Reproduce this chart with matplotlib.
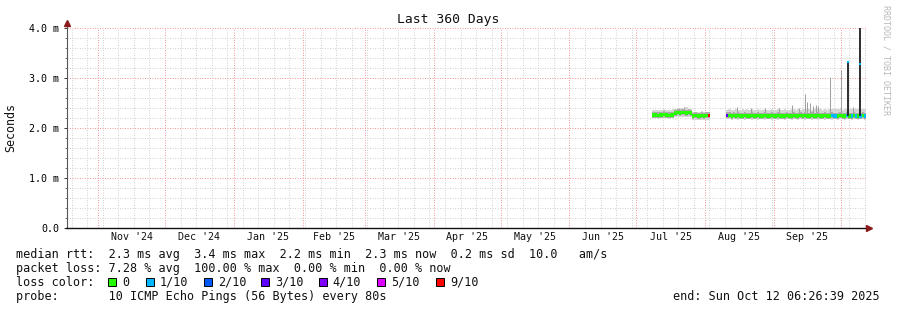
import datetime as dt
import matplotlib
matplotlib.use("Agg")
import matplotlib.pyplot as plt
import matplotlib.dates as mdates
from matplotlib.patches import Rectangle
from matplotlib.lines import Line2D

plt.rcParams['font.family'] = ['DejaVu Sans Mono']

# ---- data (ms), one value per day ----
seg1_start = dt.datetime(2025, 7, 8, 5)
seg1_median = [2.26, 2.26, 2.25, 2.26, 2.26, 2.27, 2.26, 2.25, 2.26, 2.26,
               2.30, 2.31, 2.30, 2.31, 2.31, 2.30, 2.31, 2.30,
               2.24, 2.25, 2.24, 2.24, 2.25, 2.24, 2.25, 2.25]
seg1_hi = [2.36, 2.37, 2.37, 2.36, 2.37, 2.38, 2.37, 2.36, 2.37, 2.38,
           2.39, 2.40, 2.39, 2.41, 2.39, 2.42, 2.39, 2.38,
           2.33, 2.32, 2.33, 2.32, 2.34, 2.32, 2.33, 2.32]
seg1_lo = [2.20, 2.20, 2.19, 2.20, 2.20, 2.21, 2.20, 2.19, 2.20, 2.20,
           2.22, 2.23, 2.22, 2.22, 2.23, 2.22, 2.22, 2.22,
           2.16, 2.17, 2.16, 2.16, 2.17, 2.16, 2.17, 2.17]
seg1_loss = [0, 0, 0, 0, 0, 0, 0, 0, 0, 0,
             0, 0, 0, 0, 0, 0, 0, 0,
             0, 0, 0, 0, 0, 0, 0, 9]

seg2_start = dt.datetime(2025, 8, 10, 12)
seg2_median = [2.25, 2.25, 2.24, 2.25, 2.24, 2.25, 2.24, 2.24, 2.25, 2.24,
               2.24, 2.25, 2.24, 2.24, 2.25, 2.24, 2.24, 2.25, 2.24, 2.24,
               2.25, 2.24, 2.24, 2.25, 2.24, 2.24, 2.24, 2.25, 2.24, 2.24,
               2.25, 2.24, 2.24, 2.25, 2.24, 2.25, 2.24, 2.24, 2.25, 2.24,
               2.24, 2.25, 2.24, 2.24, 2.25, 2.24, 2.24, 2.25, 2.24, 2.24,
               2.24, 2.25, 2.24, 2.24, 2.25, 2.24, 2.24, 2.25, 2.24, 2.24,
               2.24, 2.25, 2.24]
seg2_hi = [2.37, 2.38, 2.37, 2.37, 2.38, 2.37, 2.37, 2.38, 2.37, 2.38,
           2.37, 2.38, 2.37, 2.37, 2.38, 2.37, 2.37, 2.38, 2.37, 2.37,
           2.38, 2.37, 2.37, 2.38, 2.37, 2.37, 2.38, 2.37, 2.37, 2.38,
           2.38, 2.37, 2.38, 2.37, 2.38, 2.39, 2.38, 2.38, 2.37, 2.38,
           2.38, 2.39, 2.38, 2.37, 2.38, 2.37, 2.38, 2.39, 2.38, 2.38,
           2.38, 2.38, 2.37, 2.38, 2.38, 2.39, 2.38, 2.38, 2.39, 2.38,
           2.38, 2.39, 2.38]
seg2_lo = [2.18, 2.18, 2.17, 2.18, 2.18, 2.17, 2.18, 2.18, 2.17, 2.18,
           2.18, 2.17, 2.18, 2.18, 2.17, 2.18, 2.18, 2.17, 2.18, 2.18,
           2.17, 2.18, 2.18, 2.17, 2.18, 2.18, 2.17, 2.18, 2.18, 2.17,
           2.18, 2.18, 2.17, 2.18, 2.18, 2.17, 2.18, 2.18, 2.17, 2.18,
           2.18, 2.17, 2.18, 2.18, 2.17, 2.18, 2.18, 2.17, 2.18, 2.18,
           2.17, 2.18, 2.18, 2.17, 2.18, 2.18, 2.17, 2.18, 2.18, 2.17,
           2.18, 2.18, 2.17]
seg2_loss = [3, 0, 0, 0, 0, 0, 0, 0, 0, 0,
             0, 0, 0, 0, 0, 0, 0, 0, 0, 0,
             0, 0, 0, 0, 0, 0, 0, 0, 0, 0,
             0, 0, 0, 0, 0, 0, 0, 0, 0, 0,
             0, 0, 0, 0, 0, 0, 0, 1, 1, 1,
             0, 0, 0, 0, 1, 0, 1, 0, 1, 0,
             1, 0, 1]

# single-ping spikes in the smoke
peak_dates = [dt.datetime(2025, 7, 20, 12), dt.datetime(2025, 7, 22, 12),
              dt.datetime(2025, 8, 15, 7), dt.datetime(2025, 8, 21, 12),
              dt.datetime(2025, 8, 28), dt.datetime(2025, 9, 3, 12),
              dt.datetime(2025, 9, 9), dt.datetime(2025, 9, 12, 12),
              dt.datetime(2025, 9, 15), dt.datetime(2025, 9, 15, 22),
              dt.datetime(2025, 9, 17, 7), dt.datetime(2025, 9, 18, 12),
              dt.datetime(2025, 9, 20), dt.datetime(2025, 9, 21),
              dt.datetime(2025, 9, 26, 6), dt.datetime(2025, 10, 1, 2),
              dt.datetime(2025, 10, 6, 12)]
peak_tops = [2.41, 2.42, 2.42, 2.40, 2.41, 2.40, 2.45, 2.41, 2.69, 2.53,
             2.50, 2.44, 2.46, 2.43, 3.03, 3.16, 2.42]

# dense high-latency bursts
burst_dates = [dt.datetime(2025, 10, 4, 9), dt.datetime(2025, 10, 9, 18)]
burst_tops = [3.35, 4.05]
burst_median = [3.33, 3.28]

loss_levels = [0, 1, 2, 3, 4, 5, 9]
loss_labels = ['0', '1/10', '2/10', '3/10', '4/10', '5/10', '9/10']
loss_colors = ['#26ff00', '#00b8ff', '#0059ff', '#5e00ff', '#7e00ff', '#dd00ff', '#ff0000']
loss_color = dict(zip(loss_levels, loss_colors))

month_labels = ["Nov '24", "Dec '24", "Jan '25", "Feb '25", "Mar '25", "Apr '25",
                "May '25", "Jun '25", "Jul '25", "Aug '25", "Sep '25"]

legend_rows = [
    "median rtt:  2.3 ms avg  3.4 ms max  2.2 ms min  2.3 ms now  0.2 ms sd  10.0   am/s",
    "packet loss: 7.28 % avg  100.00 % max  0.00 % min  0.00 % now",
    "loss color:",
    "probe:       10 ICMP Echo Pings (56 Bytes) every 80s",
]

W, H = 897, 310
fig = plt.figure(figsize=(W / 100, H / 100), dpi=100)
fig.patch.set_facecolor('white')


def fx(px):
    return px / W


def fy(py):
    return 1 - py / H


ax = fig.add_axes([fx(67), fy(228), 800 / W, 200 / H])
t0 = dt.datetime(2024, 10, 17, 22, 0)
t1 = t0 + dt.timedelta(days=360)
ax.set_xlim(t0, t1)
ax.set_ylim(0, 4.0)

# grid: month starts (red) and weeks (grey)
months = []
m = dt.datetime(2024, 11, 1)
while m < t1:
    months.append(m)
    m = dt.datetime(m.year + (m.month == 12), m.month % 12 + 1, 1)
weeks = []
w = dt.datetime(2024, 10, 20)
while w < t1:
    weeks.append(w)
    w += dt.timedelta(days=7)

ax.set_xticks(months)
ax.set_xticks(weeks, minor=True)
ax.set_yticks([0, 1, 2, 3, 4])
ax.set_yticks([v / 5 for v in range(21)], minor=True)
ax.set_yticklabels(['0.0', '1.0 m', '2.0 m', '3.0 m', '4.0 m'])
ax.set_xticklabels([])
ax.tick_params(axis='x', which='both', length=0)
ax.tick_params(axis='y', which='major', length=2.5, width=0.7, color='#333333',
               labelsize=7.2, pad=3)
ax.tick_params(axis='y', which='minor', length=1.2, width=0.7, color='#777777')
ax.grid(which='minor', color='#d2d2d2', lw=0.72, ls=(0, (1, 1.5)), zorder=0)
ax.grid(which='major', color='#f59a9a', lw=0.72, ls=(0, (1, 1.5)), zorder=0)
for s in ax.spines.values():
    s.set_visible(False)
ax.set_axisbelow(True)


def draw_block(start, med, hi, lo, loss):
    n = len(med)
    xs = [start + dt.timedelta(days=i) for i in range(n + 1)]
    hi2 = hi + hi[-1:]
    lo2 = lo + lo[-1:]
    ax.fill_between(xs, lo2, hi2, step='post', color='#d6d6d6', lw=0, zorder=2)
    inner_hi = [v + 0.065 for v in med] + [med[-1] + 0.065]
    inner_lo = [v - 0.05 for v in med] + [med[-1] - 0.05]
    ax.fill_between(xs, inner_lo, inner_hi, step='post', color='#ababab', lw=0, zorder=3)
    for i in range(n):
        ax.bar(xs[i], 0.07, width=1.0, bottom=med[i] - 0.035, align='edge',
               color=loss_color[loss[i]], lw=0, zorder=5)


draw_block(seg1_start, seg1_median, seg1_hi, seg1_lo, seg1_loss)
draw_block(seg2_start, seg2_median, seg2_hi, seg2_lo, seg2_loss)

ax.vlines(peak_dates, 2.3, peak_tops, color='#a0a0a0', lw=0.75, zorder=4)
ax.vlines(burst_dates, 2.25, burst_tops, color='#1e1e1e', lw=1.3, zorder=6)
ax.scatter(burst_dates, burst_median, marker='s', s=3, color=loss_color[1], lw=0, zorder=7)

# month labels in the middle of each month
for i, lab in enumerate(month_labels):
    mid = months[i] + (months[i + 1] - months[i]) / 2
    ax.text(mdates.date2num(mid), -0.047, lab, ha='center', va='center', fontsize=7.2,
            color='#111111', transform=ax.get_xaxis_transform(), clip_on=False)

# axes with arrows
fig.add_artist(Line2D([fx(67), fx(67)], [fy(228), fy(24)], color='#555555', lw=0.8))
fig.add_artist(Line2D([fx(66), fx(868)], [fy(228), fy(228)], color='#111111', lw=1.0))
fig.add_artist(Line2D([fx(67)], [fy(23)], marker='^', ms=4, color='#8b1a1a', lw=0))
fig.add_artist(Line2D([fx(869)], [fy(228)], marker='>', ms=4, color='#8b1a1a', lw=0))

fig.text(fx(448), fy(19), 'Last 360 Days', ha='center', va='center', fontsize=9.4, color='#111111')
fig.text(fx(11), fy(127), 'Seconds', ha='center', va='center', rotation=90, fontsize=8.4,
         color='#111111')
fig.text(fx(886), fy(60), 'RRDTOOL / TOBI OETIKER', ha='center', va='center', rotation=270,
         fontsize=6, color='#b8b8b8')

row_y = [254.3, 268.3, 282.2, 296.5]
for txt, y in zip(legend_rows, row_y):
    fig.text(fx(16), fy(y), txt, ha='left', va='center', fontsize=8.5, color='#111111')

label_x = [122.3, 160, 217.7, 275, 332.7, 390.7, 450]
for lx, lab, col in zip(label_x, loss_labels, loss_colors):
    fig.add_artist(Rectangle((fx(lx - 14), fy(286)), 8 / W, 8 / H, transform=fig.transFigure,
                             facecolor=col, edgecolor='#000000', lw=0.7))
    fig.text(fx(lx), fy(282.2), lab, ha='left', va='center', fontsize=8.5, color='#111111')

fig.text(fx(880), fy(296.5), 'end: Sun Oct 12 06:26:39 2025', ha='right', va='center',
         fontsize=8.5, color='#111111')

fig.savefig('out.png', dpi=100, facecolor='white')
